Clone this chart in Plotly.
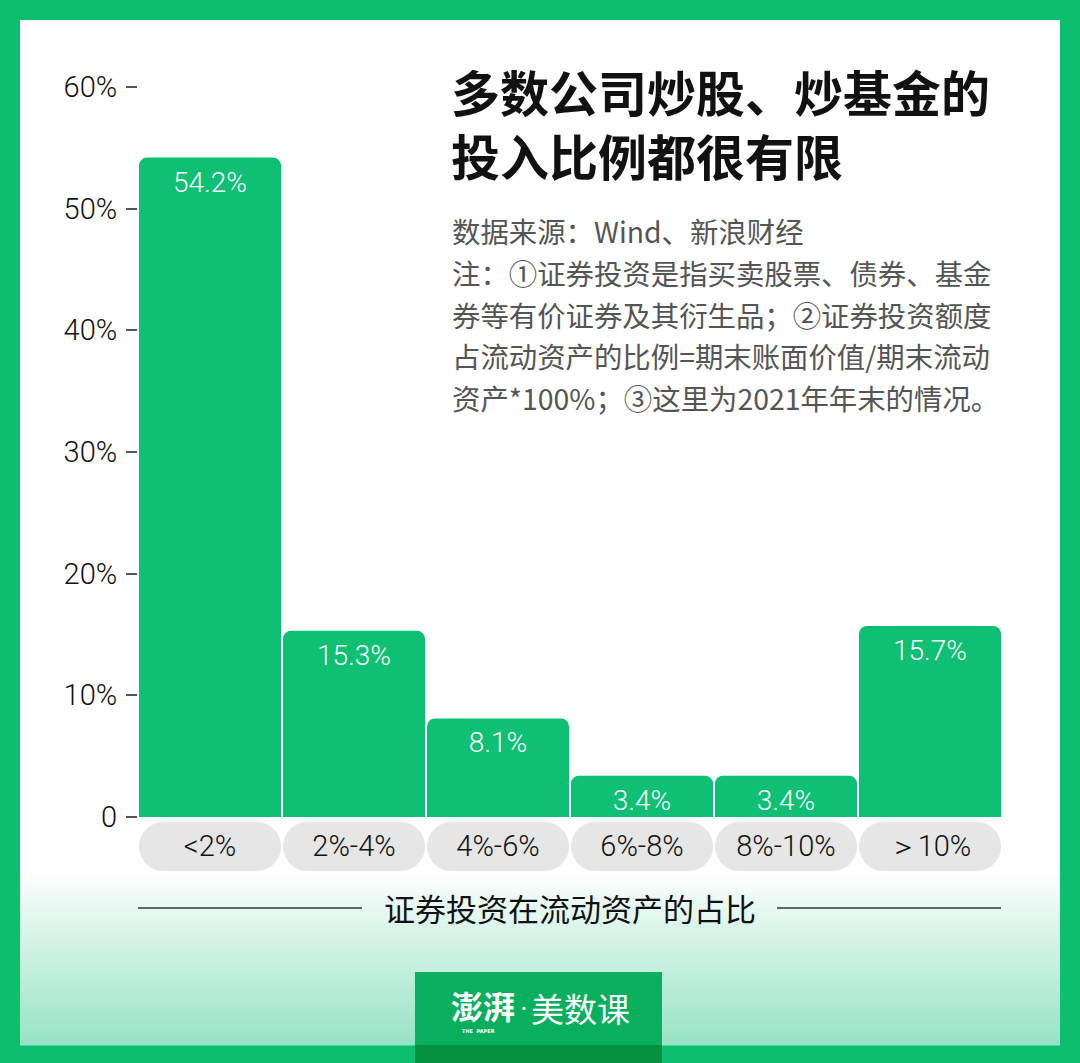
import plotly.graph_objects as go

# ---- data ----
categories = ["<2%", "2%-4%", "4%-6%", "6%-8%", "8%-10%", "＞10%"]
shares = [54.2, 15.3, 8.1, 3.4, 3.4, 15.7]
y_ticks = [0, 10, 20, 30, 40, 50, 60]
y_tick_text = ["0", "10%", "20%", "30%", "40%", "50%", "60%"]

title_lines = ["多数公司炒股、炒基金的", "投入比例都很有限"]
note_lines = [
    "数据来源：Wind、新浪财经",
    "注：①证券投资是指买卖股票、债券、基金",
    "券等有价证券及其衍生品；②证券投资额度",
    "占流动资产的比例=期末账面价值/期末流动",
    "资产*100%；③这里为2021年年末的情况。",
]
x_title = "证券投资在流动资产的占比"

# ---- layout geometry (pixels) ----
W, H = 1080, 1063
L, R, T, B = 138, 1002, 87, 817
GREEN = "#0CBF6F"
BAR = "#0DC073"
NUM_FONT = "Roboto"
CJK = "Noto Sans CJK SC"


def px(x):
    return (x - L) / (R - L)


def py(y):
    return (B - y) / (B - T)


def pill_path(w, h, top, r):
    k = 0.5523 * r
    x0, x1 = -w / 2, w / 2
    y0 = -top
    y1 = y0 - h
    return (
        f"M {x0 + r},{y0} L {x1 - r},{y0} "
        f"C {x1 - r + k},{y0} {x1},{y0 - r + k} {x1},{y0 - r} "
        f"L {x1},{y1 + r} "
        f"C {x1},{y1 + r - k} {x1 - r + k},{y1} {x1 - r},{y1} "
        f"L {x0 + r},{y1} "
        f"C {x0 + r - k},{y1} {x0},{y1 + r - k} {x0},{y1 + r} "
        f"L {x0},{y0 - r} "
        f"C {x0},{y0 - r + k} {x0 + r - k},{y0} {x0 + r},{y0} Z"
    )


fig = go.Figure()
fig.add_trace(
    go.Bar(
        x=categories,
        y=shares,
        marker=dict(color=BAR, cornerradius=8, line=dict(width=0)),
        text=[f"{v:.1f}%" for v in shares],
        textposition="inside",
        insidetextanchor="end",
        constraintext="none",
        textangle=0,
        insidetextfont=dict(family=NUM_FONT, size=28, color="white", weight=300),
        hoverinfo="skip",
    )
)

shapes = []
# white card
shapes.append(dict(type="rect", xref="paper", yref="paper", x0=px(20), x1=px(1060),
                   y0=py(1045), y1=py(20), fillcolor="white", line=dict(width=0), layer="below"))
# gradient at bottom
g0, g1 = 868, 1045
n = 36
c_end = (150, 227, 196)
for i in range(n):
    ya = g0 + (g1 - g0) * i / n
    yb = g0 + (g1 - g0) * (i + 1) / n
    t = (i + 0.5) / n
    c = tuple(round(255 + (ce - 255) * t) for ce in c_end)
    shapes.append(dict(type="rect", xref="paper", yref="paper", x0=px(20), x1=px(1060),
                       y0=py(yb + 0.5), y1=py(ya), fillcolor=f"rgb{c}",
                       line=dict(width=0), layer="below"))
# pills behind category labels (x follows the category axis, y below the baseline)
for i in range(len(categories)):
    shapes.append(dict(type="path", xref="x", yref="paper", xsizemode="pixel", ysizemode="pixel",
                       xanchor=i, yanchor=0, path=pill_path(142, 49, 5, 24.5),
                       fillcolor="#E6E6E6", line=dict(width=0), layer="below"))
# axis title rules
shapes.append(dict(type="line", xref="paper", yref="paper", x0=px(138), x1=px(362),
                   y0=py(908), y1=py(908), line=dict(color="#333333", width=1.5)))
shapes.append(dict(type="line", xref="paper", yref="paper", x0=px(777), x1=px(1001),
                   y0=py(908), y1=py(908), line=dict(color="#333333", width=1.5)))
# logo box
shapes.append(dict(type="rect", xref="paper", yref="paper", x0=px(415), x1=px(662),
                   y0=py(1063), y1=py(972), fillcolor="#0AAF5D", line=dict(width=0)))
shapes.append(dict(type="rect", xref="paper", yref="paper", x0=px(415), x1=px(662),
                   y0=py(1063), y1=py(1045), fillcolor="#05903D", line=dict(width=0)))

annotations = []
annotations.append(dict(text="<br>".join(title_lines), xref="paper", yref="paper",
                        x=px(449), y=py(53), xanchor="left", yanchor="top", align="left",
                        showarrow=False,
                        font=dict(family=CJK, size=49, color="#111111", weight="bold")))
for i, line in enumerate(note_lines):
    annotations.append(dict(text=line, xref="paper", yref="paper", x=px(450), y=py(231 + 41.6 * i),
                            xanchor="left", yanchor="middle", showarrow=False,
                            font=dict(family=CJK, size=28.4, color="#555555")))
annotations.append(dict(text=x_title, xref="paper", yref="paper", x=px(570), y=py(907),
                        xanchor="center", yanchor="middle", showarrow=False,
                        font=dict(family=CJK, size=31, color="#111111")))
# logo
annotations.append(dict(text="澎湃", xref="paper", yref="paper", x=px(483), y=py(1005),
                        xanchor="center", yanchor="middle", showarrow=False,
                        font=dict(family=CJK, size=32, color="white", weight="bold")))
annotations.append(dict(text="·", xref="paper", yref="paper", x=px(524), y=py(1008),
                        xanchor="center", yanchor="middle", showarrow=False,
                        font=dict(family=NUM_FONT, size=30, color="white")))
annotations.append(dict(text="美数课", xref="paper", yref="paper", x=px(529), y=py(1008),
                        xanchor="left", yanchor="middle", showarrow=False,
                        font=dict(family=CJK, size=33, color="white")))
annotations.append(dict(text="THE  PAPER", xref="paper", yref="paper", x=px(478), y=py(1031),
                        xanchor="center", yanchor="middle", showarrow=False,
                        font=dict(family="DejaVu Sans", size=5, color="white", weight="bold")))

fig.update_layout(
    width=W, height=H,
    margin=dict(l=L, r=W - R, t=T, b=H - B, pad=0, autoexpand=False),
    paper_bgcolor=GREEN,
    plot_bgcolor="rgba(0,0,0,0)",
    bargap=0.014,
    showlegend=False,
    shapes=shapes,
    annotations=annotations,
    xaxis=dict(
        type="category", range=[-0.5, 5.5], showgrid=False, zeroline=False, showline=False,
        ticks="", ticklabelstandoff=9, automargin=False, fixedrange=True,
        tickfont=dict(family=NUM_FONT, size=29, color="#111111", weight=300),
    ),
    yaxis=dict(
        range=[0, 60], tickmode="array", tickvals=y_ticks, ticktext=y_tick_text,
        showgrid=False, zeroline=False, showline=False, automargin=False, fixedrange=True,
        ticks="outside", ticklen=11, tickwidth=1.5, tickcolor="#555555",
        ticklabelstandoff=3,
        tickfont=dict(family=NUM_FONT, size=29, color="#111111", weight=300),
    ),
)

fig.write_html("out.html", config={"displayModeBar": False})
